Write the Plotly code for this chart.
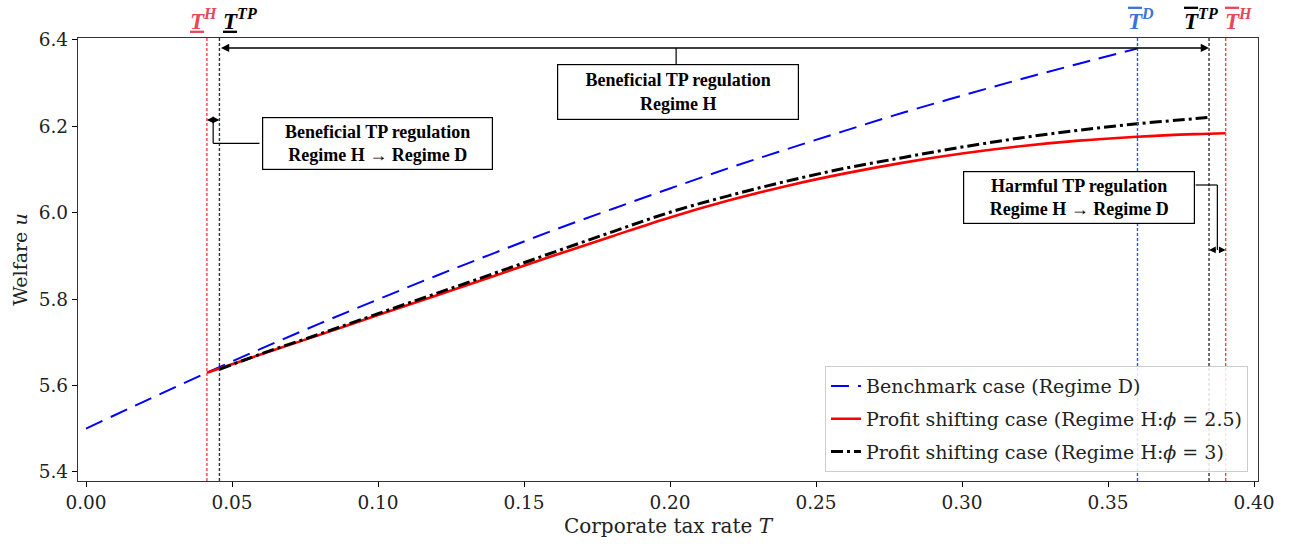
import plotly.graph_objects as go

# ---------------- data ----------------
bench_T = [0.00, 0.02, 0.04, 0.06, 0.08, 0.10, 0.12, 0.14, 0.16, 0.18, 0.20,
           0.22, 0.24, 0.26, 0.28, 0.30, 0.32, 0.34, 0.36]
bench_u = [5.500, 5.563, 5.625, 5.685, 5.743, 5.799, 5.854, 5.907, 5.959, 6.008, 6.056,
           6.103, 6.147, 6.190, 6.232, 6.271, 6.309, 6.345, 6.380]

ps25_T = [0.0414, 0.06, 0.08, 0.10, 0.12, 0.14, 0.16, 0.18, 0.20, 0.22, 0.24,
          0.26, 0.28, 0.30, 0.32, 0.34, 0.36, 0.38, 0.3903]
ps25_u = [5.629, 5.672, 5.717, 5.763, 5.808, 5.854, 5.900, 5.945, 5.989, 6.028, 6.062,
          6.091, 6.116, 6.137, 6.154, 6.167, 6.176, 6.182, 6.184]

ps3_T = [0.0457, 0.06, 0.08, 0.10, 0.12, 0.14, 0.16, 0.18, 0.20, 0.22, 0.24,
         0.26, 0.28, 0.30, 0.32, 0.34, 0.36, 0.38, 0.3846]
ps3_u = [5.637, 5.673, 5.719, 5.766, 5.813, 5.860, 5.908, 5.955, 6.001, 6.039, 6.073,
         6.103, 6.128, 6.152, 6.173, 6.191, 6.206, 6.218, 6.221]

# thresholds (vertical lines)
T_H_low = 0.0414
T_TP_low = 0.0457
T_D_bar = 0.3601
T_TP_bar = 0.3846
T_H_bar = 0.3903

x_ticks = [0.00, 0.05, 0.10, 0.15, 0.20, 0.25, 0.30, 0.35, 0.40]
y_ticks = [5.4, 5.6, 5.8, 6.0, 6.2, 6.4]

legend_names = [
    "Benchmark case (Regime D)",
    "Profit shifting case (Regime H:<i>ϕ</i> = 2.5)",
    "Profit shifting case (Regime H:<i>ϕ</i> = 3)",
]

# ---------------- styling ----------------
AX_FONT = "DejaVu Serif"
BOX_FONT = "Liberation Serif"
RED_LBL = "#e8475a"
BLUE_LBL = "#3d72d6"

fig = go.Figure()

fig.add_trace(go.Scatter(
    x=bench_T, y=bench_u, mode="lines", name=legend_names[0],
    line=dict(color="#0000ff", width=2, dash="18px,9px", shape="spline"),
    legendgroup="a"))
fig.add_trace(go.Scatter(
    x=ps25_T, y=ps25_u, mode="lines", name=legend_names[1],
    line=dict(color="#ff0000", width=2.6, shape="spline"),
    legendgroup="b"))
fig.add_trace(go.Scatter(
    x=ps3_T, y=ps3_u, mode="lines", name=legend_names[2],
    line=dict(color="#000000", width=3, dash="12px,4px,3px,4px", shape="spline"),
    legendgroup="c"))

# vertical threshold lines
vlines = [
    (T_H_low, "#ff4040"),
    (T_TP_low, "#333333"),
    (T_D_bar, "#3050ff"),
    (T_TP_bar, "#333333"),
    (T_H_bar, "#ff4040"),
]
for xv, col in vlines:
    fig.add_shape(type="line", xref="x", yref="paper", x0=xv, x1=xv, y0=0, y1=1,
                  line=dict(color=col, width=1.4, dash="3px,2px"))

# top labels
def tlabel(sup, mark):
    deco = "underline" if mark == "under" else "overline"
    t = "<span style='text-decoration:" + deco + "'><b><i>T</i></b></span>"
    return t + "<sup><b><i>" + sup + "</i></b></sup>"

labels = [
    (T_H_low, "H", "under", RED_LBL, -3),
    (T_TP_low, "TP", "under", "#000000", 21),
    (T_D_bar, "D", "over", BLUE_LBL, 4),
    (T_TP_bar, "TP", "over", "#000000", -8),
    (T_H_bar, "H", "over", RED_LBL, 13),
]
for xv, sup, mark, col, dx in labels:
    fig.add_annotation(x=xv, y=1, xref="x", yref="paper", xanchor="center",
                       yanchor="bottom", xshift=dx, yshift=2, showarrow=False,
                       text=tlabel(sup, mark),
                       font=dict(family=BOX_FONT, size=23, color=col))

# long double arrow (top)
arrow_y_top = 6.3815
fig.add_annotation(x=T_TP_bar, y=arrow_y_top, ax=T_TP_low, ay=arrow_y_top,
                   xref="x", yref="y", axref="x", ayref="y", text="",
                   showarrow=True, arrowhead=2, startarrowhead=2,
                   arrowside="end+start", arrowsize=1.1, startarrowsize=1.1,
                   arrowwidth=1.5, arrowcolor="#000000", standoff=0, startstandoff=0)

# short double arrows: two half-arrows from the midpoint outward
arrow_y_left = 6.2147
arrow_y_right = 5.9136
short_pairs = [
    (T_H_low, T_TP_low, arrow_y_left),
    (T_TP_bar, T_H_bar, arrow_y_right),
]
for x0, x1, yv in short_pairs:
    xm = (x0 + x1) / 2
    for xe in (x0, x1):
        fig.add_annotation(x=xe, y=yv, ax=xm, ay=yv, xref="x", yref="y",
                           axref="x", ayref="y", text="", showarrow=True,
                           arrowhead=2, arrowsize=0.9, arrowwidth=1.5,
                           arrowcolor="#000000", standoff=0)

# text boxes
boxes = [
    (0.2027, 6.2795, "Beneficial TP regulation<br>Regime H", 240, 54),
    (0.0998, 6.1603, "Beneficial TP regulation<br>Regime H → Regime D", 229, 51),
    (0.3402, 6.0363, "Harmful TP regulation<br>Regime H → Regime D", 230, 51),
]
for xb, yb, txt, w, h in boxes:
    fig.add_annotation(x=xb, y=yb, xref="x", yref="y", text="<b>" + txt + "</b>",
                       showarrow=False, width=w, height=h, borderpad=0,
                       bordercolor="#000000", borderwidth=1.2, bgcolor="#ffffff",
                       font=dict(family=BOX_FONT, size=18, color="#000000"))

# connector lines between boxes and arrows
conn = [
    (0.2021, 6.3815, 0.2021, 6.3445),
    (0.0594, 6.1607, 0.04355, 6.1607),
    (0.04355, 6.1607, 0.04355, 6.2147),
    (0.3800, 6.0641, 0.38745, 6.0641),
    (0.38745, 6.0641, 0.38745, 5.9136),
]
for x0, y0, x1, y1 in conn:
    fig.add_shape(type="line", xref="x", yref="y", x0=x0, y0=y0, x1=x1, y1=y1,
                  line=dict(color="#000000", width=1.2))

fig.update_layout(
    width=1290, height=544,
    margin=dict(l=78, r=32, t=38, b=63),
    paper_bgcolor="#ffffff", plot_bgcolor="#ffffff",
    font=dict(family=AX_FONT, size=18, color="#222222"),
    showlegend=True,
    legend=dict(x=0.9915, y=0.02, xanchor="right", yanchor="bottom",
                bgcolor="rgba(255,255,255,0.85)", bordercolor="#cccccc",
                borderwidth=1, font=dict(family=AX_FONT, size=19, color="#222222"),
                traceorder="grouped", tracegroupgap=5),
)
fig.update_xaxes(
    range=[-0.00274, 0.40137], tickvals=x_ticks, tickformat=".2f",
    ticks="outside", ticklen=5, tickwidth=1, tickcolor="#000000",
    tickfont=dict(size=18.5),
    showline=True, linecolor="#333333", linewidth=1.3, mirror=True,
    showgrid=False, zeroline=False,
    title=dict(text="Corporate tax rate <i>T</i>", standoff=6,
               font=dict(family=AX_FONT, size=20)),
)
fig.update_yaxes(
    range=[5.3785, 6.4046], tickvals=y_ticks, tickformat=".1f",
    ticks="outside", ticklen=5, tickwidth=1, tickcolor="#000000",
    tickfont=dict(size=18.5),
    showline=True, linecolor="#333333", linewidth=1.3, mirror=True,
    showgrid=False, zeroline=False,
    title=dict(text="Welfare <i>u</i>", standoff=6,
               font=dict(family=AX_FONT, size=19)),
)

fig.write_html("out.html")
